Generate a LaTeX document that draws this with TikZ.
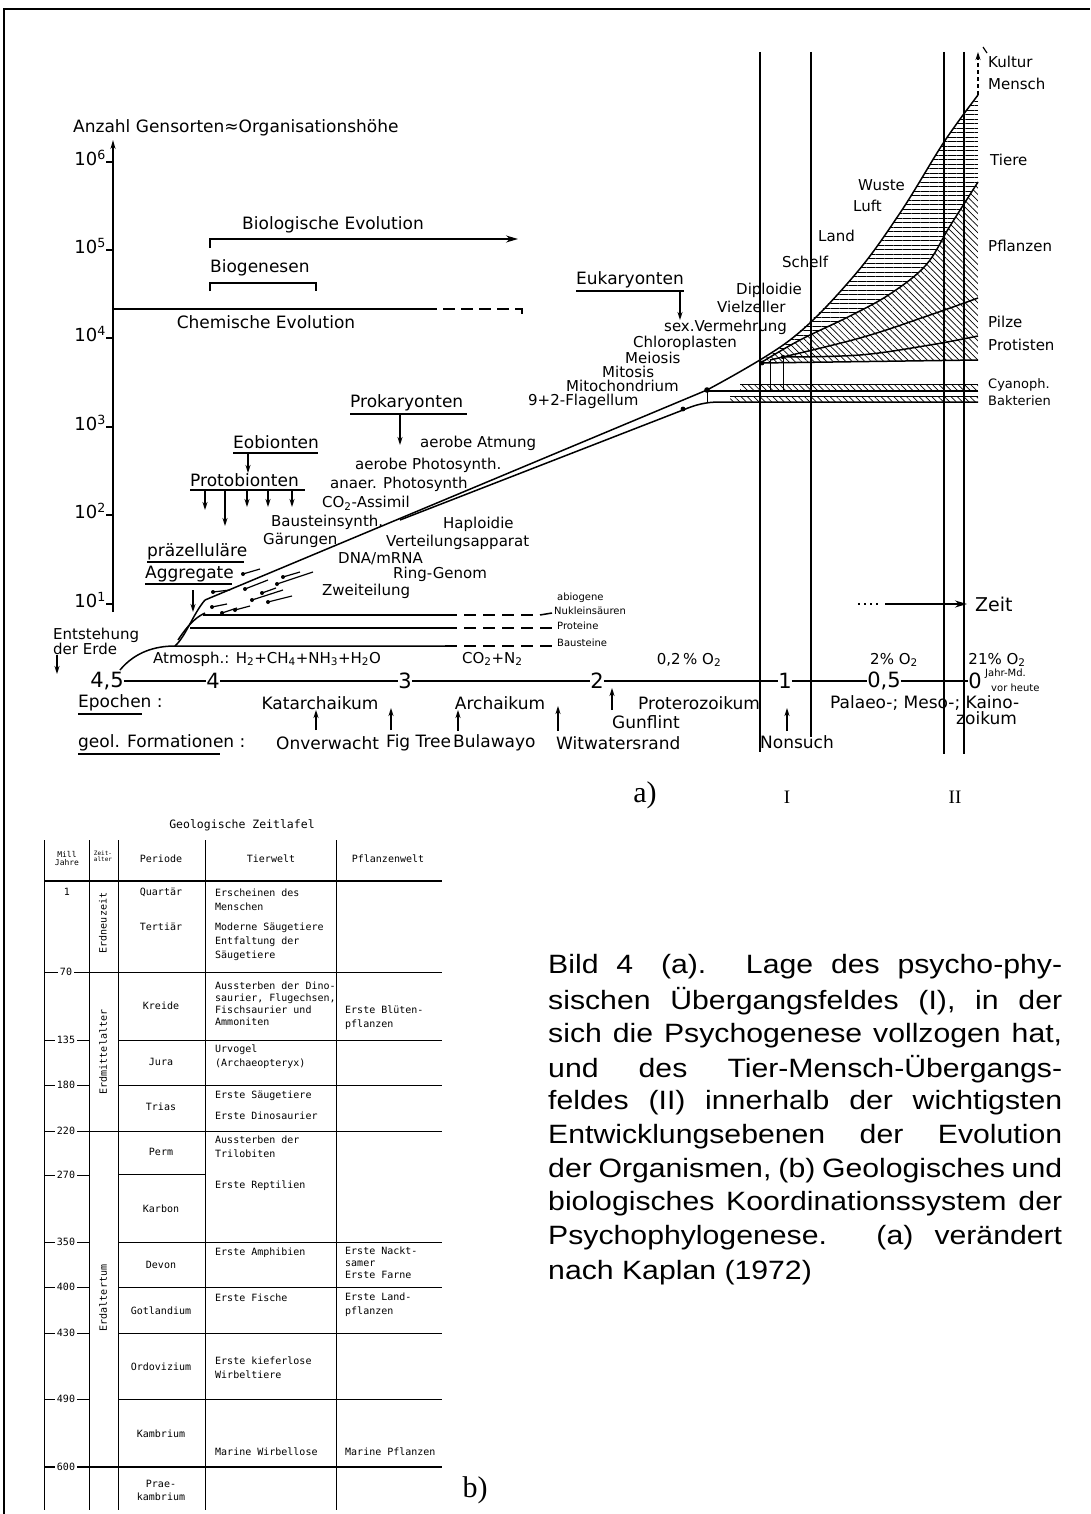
\documentclass[tikz,border=0pt]{standalone}
\usepackage{fontspec}
\setmainfont{DejaVu Sans}
\newfontfamily\capfont{Liberation Sans}[FakeStretch=1.14]
\newfontfamily\serfont{Liberation Serif}
\newfontfamily\tabfont{DejaVu Sans Mono}
\usetikzlibrary{patterns,patterns.meta,arrows.meta}
\newcommand{\myfs}[1]{\fontsize{#1}{#1}\selectfont}
\begin{document}
\begin{tikzpicture}[x=1pt,y=-1pt,
  hd/.style={font=\myfs{17}, inner sep=0pt},
  md/.style={font=\myfs{15}, inner sep=0pt},
  sm/.style={font=\myfs{10}, inner sep=0pt},
  num/.style={font=\myfs{21}, inner sep=0pt},
  tb/.style={font=\tabfont\myfs{10}, inner sep=0pt},
  tbl/.style={tb, anchor=west, align=left},
  tbs/.style={font=\tabfont\myfs{8}, inner sep=0pt, align=center},
  captxt/.style={font=\capfont\myfs{26.5}, inner sep=0pt, anchor=west},
  ser/.style={font=\serfont\myfs{30}, inner sep=0pt},
  serr/.style={font=\serfont\myfs{19}, inner sep=0pt},
  ln/.style={line width=1.5pt},
  tln/.style={line width=1pt},
  arr/.style={line width=1.5pt, -{Stealth[length=12pt,width=7pt]}},
  sarr/.style={line width=1.4pt, -{Stealth[length=8pt,width=5pt]}},
  ul/.style={line width=1.2pt},
  hatchH/.style={pattern={Lines[angle=0,distance=4.5pt,line width=0.7pt]}},
  hatchD/.style={pattern={Lines[angle=-45,distance=4.5pt,line width=0.7pt]}},
  dotarr/.style={line width=1.2pt},
]
\useasboundingbox (0,0) rectangle (1090,1514);
\fill[white] (0,0) rectangle (1090,1514);
% frame
\draw[line width=2.8pt] (4,1514) -- (4,9) -- (1090,9);

% ---------------- y axis
\draw[ln, -{Stealth[length=9pt,width=5pt]}] (113,612) -- (113,140);
\foreach \yy/\e [count=\i] in {162/6,250/5,338/4,427/3,515/2,604/1}{
  \draw[ln] (106,\yy) -- (113,\yy);
  \node[font=\myfs{18}, inner sep=0pt, anchor=east] (tk\i) at (106,\yy-4) {10\textsuperscript{\e}};
}
\node[font=\myfs{17}, inner sep=0pt, anchor=west] (ylab) at (73,128) {Anzahl Gensorten≈Organisationshöhe};

% chemische / biologische evolution
\draw[ln] (113,309) -- (425,309);
\draw[ln, dash pattern=on 12pt off 6pt] (425,309) -- (522,309) -- (522,318);
\node[hd] (chem) at (266,322) {Chemische Evolution};
\draw[arr] (210,248) -- (210,239) -- (518,239);
\node[hd] (bio) at (333,225) {Biologische Evolution};
\draw[ln] (210,291) -- (210,283) -- (316,283) -- (316,291);
\node[hd, anchor=west] (biog) at (210,268) {Biogenesen};

% headings with underline and arrows
\node[hd, anchor=west] (euk) at (576,280) {Eukaryonten};
\draw[ul] (576,291) -- (684,291);
\draw[sarr] (680,292) -- (680,320);
\node[hd, anchor=west] (prok) at (350,403) {Prokaryonten};
\draw[ul] (350,414) -- (467,414);
\draw[sarr] (400,414) -- (400,445);
\node[hd, anchor=west] (eob) at (233,442) {Eobionten};
\draw[ul] (233,453) -- (318,453);
\draw[sarr] (248,453) -- (248,473);
\node[hd, anchor=west] (prot) at (190,480) {Protobionten};
\draw[ul] (190,490) -- (305,490);
\foreach \xx/\yb in {205/510,225/526,247/507,268/507,292/507}{
  \draw[sarr] (\xx,490) -- (\xx,\yb);
}
\node[hd, anchor=west] (praez) at (147,552) {präzelluläre};
\draw[ul] (147,562) -- (244,562);
\node[hd, anchor=west] (aggr) at (145,574) {Aggregate};
\draw[ul] (145,584) -- (232,584);
\draw[sarr] (193,590) -- (193,612);
\node[md, anchor=west, align=left] (entst) at (53,641) {Entstehung\\der Erde};
\draw[sarr] (57,655) -- (57,674);

% eukaryote labels
\node[md, anchor=west] (sexv) at (664,327) {sex.Vermehrung};
\node[md, anchor=west] (chlo) at (633,343) {Chloroplasten};
\node[md, anchor=west] (meio) at (625,358) {Meiosis};
\node[md, anchor=west] (mito) at (602,372) {Mitosis};
\node[md, anchor=west] (mitoc) at (566,386) {Mitochondrium};
\node[md, anchor=west] (flag) at (528,401) {9+2-Flagellum};
\node[md, anchor=west] (dipl) at (736,290) {Diploidie};
\node[md, anchor=west] (vielz) at (717,307) {Vielzeller};
% prokaryote labels
\node[md, anchor=west] (aatm) at (420,443) {aerobe Atmung};
\node[md, anchor=west] (aph) at (355,465) {aerobe Photosynth.};
\node[md, anchor=west] (anph) at (330,484) {anaer. Photosynth};
\node[md, anchor=west] (co2a) at (322,503) {CO\textsubscript{2}-Assimil};
\node[md, anchor=west] (baus) at (271,522) {Bausteinsynth.};
\node[md, anchor=west] (gaer) at (263,540) {Gärungen};
\node[md, anchor=west] (hapl) at (443,524) {Haploidie};
\node[md, anchor=west] (vert) at (386,542) {Verteilungsapparat};
\node[md, anchor=west] (dna) at (338,559) {DNA/mRNA};
\node[md, anchor=west] (ring) at (393,574) {Ring-Genom};
\node[md, anchor=west] (zwei) at (322,591) {Zweiteilung};

% habitat labels
\node[md, anchor=west] (wue) at (858,185) {Wuste};
\node[md, anchor=west] (luft) at (853,206) {Luft};
\node[md, anchor=west] (land) at (818,236) {Land};
\node[md, anchor=west] (schelf) at (782,262) {Schelf};

% ---------------- fan (right)
\fill[hatchH] plot[smooth,tension=0.6] coordinates {(762,360) (790,340) (853,277) (900,213) (944,142) (978,95)} -- (978,182)
   -- plot[smooth,tension=0.6] coordinates {(978,182) (950,226) (926,265) (890,294) (850,316) (800,340) (762,362)} -- cycle;
\fill[hatchD] plot[smooth,tension=0.6] coordinates {(762,362) (800,340) (850,316) (890,294) (926,265) (950,226) (978,182)} -- (978,298)
   -- plot[smooth,tension=0.6] coordinates {(978,298) (930,315) (860,338) (770,360)} -- cycle;
\fill[hatchD] plot[smooth,tension=0.6] coordinates {(770,360) (860,338) (930,315) (978,298)} -- (978,336)
   -- plot[smooth,tension=0.6] coordinates {(978,336) (930,345) (860,355) (783,357)} -- cycle;
\fill[hatchD] plot[smooth,tension=0.6] coordinates {(783,357) (860,355) (930,345) (978,336)} -- (978,360) -- (760,363) -- cycle;
\fill[hatchD] (740,384) rectangle (978,391);
\fill[hatchD] (730,396) rectangle (978,402);

\draw[ln] plot[smooth,tension=0.6] coordinates {(707,390) (790,340) (853,277) (900,213) (944,142) (978,95)};
\draw[ln] plot[smooth,tension=0.6] coordinates {(762,362) (800,340) (850,316) (890,294) (926,265) (950,226) (978,182)};
\draw[ln] plot[smooth,tension=0.6] coordinates {(770,360) (860,338) (930,315) (978,298)};
\draw[ln] plot[smooth,tension=0.6] coordinates {(783,357) (860,355) (930,345) (978,336)};
\draw[ln] (760,363) -- (978,360);
\draw[tln] (740,384) -- (978,384);
\draw[ln] (707,391) -- (978,391);
\draw[tln] (730,396) -- (978,396);
\draw[tln] (770,360) -- (770,392);
\draw[tln] (783,357) -- (783,392);
\fill (762,363) circle (2.4pt);
\fill (783,357) circle (2.2pt);
\draw[line width=1.3pt, dash pattern=on 4pt off 3pt, -{Stealth[length=8pt,width=5pt]}] (978,95) -- (978,52);
\draw[line width=1.2pt] (983,47) -- (987,53);

% stem
\draw[ln] (205,600) -- (707,390);
\draw[ln] (400,520) -- (683,410) .. controls (695,405) and (705,402) .. (720,402) -- (978,402);
\draw[tln] (707,390) -- (707,402);
\fill (707,390) circle (2.8pt);
\fill (683,409) circle (2.4pt);

% fan labels
\node[md, anchor=west] (kult) at (988,62) {Kultur};
\node[md, anchor=west] (mensch) at (988,84) {Mensch};
\node[md, anchor=west] (tiere) at (990,160) {Tiere};
\node[md, anchor=west] (pfl) at (988,246) {Pflanzen};
\node[md, anchor=west] (pilze) at (988,322) {Pilze};
\node[md, anchor=west] (protis) at (988,345) {Protisten};
\node[font=\myfs{13}, inner sep=0pt, anchor=west] (cyan) at (988,385) {Cyanoph.};
\node[font=\myfs{13}, inner sep=0pt, anchor=west] (bakt) at (988,401) {Bakterien};

% ---------------- bottom-left structures
\draw[ln] (120,670) .. controls (135,652) and (155,646) .. (175,646) -- (445,646);
\draw[ln, dash pattern=on 12pt off 7pt] (445,646) -- (540,646);
\draw[ln] (540,646) -- (552,646);
\draw[ln] (175,646) .. controls (186,636) and (193,614) .. (205,600);
\draw[ln] (178,640) .. controls (186,628) and (194,618) .. (205,613);
\draw[ln] (190,628) -- (445,628);
\draw[ln, dash pattern=on 12pt off 7pt] (445,628) -- (540,628);
\draw[ln] (540,628) -- (552,628);
\draw[ln] (203,615) -- (445,615);
\draw[ln, dash pattern=on 12pt off 7pt] (445,615) -- (540,615);
\draw[ln] (540,615) -- (552,613);
% small aggregate arrows
\foreach \ax/\ay/\bx/\by in {243/574/260/569, 213/592/230/590, 245/589/268/580, 277/584/313/572, 252/600/283/590, 268/602/292/596, 212/607/227/604, 222/613/237/608, 235/610/250/606, 283/577/300/572, 262/593/276/588}{
  \draw[dotarr] (\ax,\ay) -- (\bx,\by);
  \fill (\ax,\ay) circle (2pt);
}
\node[sm, anchor=west] (abio) at (557,598) {abiogene};
\node[sm, anchor=west] (nukl) at (554,611) {Nukleinsäuren};
\node[sm, anchor=west] (prte) at (557,626) {Proteine};
\node[sm, anchor=west] (bste) at (557,643) {Bausteine};

% atmosphere
\node[md, anchor=west] (atm) at (153,659) {Atmosph.: H\textsubscript{2}+CH\textsubscript{4}+NH\textsubscript{3}+H\textsubscript{2}O};
\node[md, anchor=west] (co2) at (462,659) {CO\textsubscript{2}+N\textsubscript{2}};
\node[md] (o2a) at (689,660) {0,2\,\% O\textsubscript{2}};
\node[md] (o2b) at (894,660) {2\% O\textsubscript{2}};
\node[md] (o2c) at (997,660) {21\% O\textsubscript{2}};

% time axis
\node[num] (n45) at (107,681) {4,5};
\node[num] (n4) at (213,681) {4};
\node[num] (n3) at (405,681) {3};
\node[num] (n2) at (597,681) {2};
\node[num] (n1) at (785,681) {1};
\node[num] (n05) at (884,681) {0,5};
\node[num] (n0) at (975,681) {0};
\draw[ln] (n45) -- (n4);
\draw[ln] (n4) -- (n3);
\draw[ln] (n3) -- (n2);
\draw[ln] (n2) -- (n1);
\draw[ln] (n1) -- (n05);
\draw[ln] (n05) -- (n0);
\node[sm, anchor=west] (jahr) at (985,674) {Jahr-Md.};
\node[sm, anchor=west] (vorh) at (991,688) {vor heute};

\draw[line width=1.6pt, dash pattern=on 2pt off 4pt] (858,604) -- (880,604);
\draw[arr] (885,604) -- (967,604);
\node[font=\myfs{19}, inner sep=0pt, anchor=west] (zeit) at (975,604) {Zeit};

% epochs
\node[hd, anchor=west] (epo) at (78,703) {Epochen :};
\draw[ul] (78,714) -- (142,714);
\node[hd] (kat) at (320,703) {Katarchaikum};
\node[hd] (arch) at (500,703) {Archaikum};
\node[hd, anchor=west] (prot2) at (638,703) {Proterozoikum};
\node[hd, anchor=west] (pmk) at (830,703) {Palaeo-; Meso-; Kaino-};
\node[hd, anchor=west] (zoik) at (956,718) {zoikum};

\node[hd, anchor=west] (geol) at (78,743) {geol. Formationen :};
\draw[ul] (78,754) -- (220,754);
\node[hd, anchor=west] (onv) at (276,743) {Onverwacht};
\node[hd, anchor=west] (fig) at (386,743) {Fig Tree};
\node[hd, anchor=west] (bul) at (453,743) {Bulawayo};
\node[hd, anchor=west] (wit) at (556,743) {Witwatersrand};
\node[hd, anchor=west] (gun) at (612,722) {Gunflint};
\node[hd, anchor=west] (non) at (760,742) {Nonsuch};
\draw[sarr] (316,730) -- (316,710);
\draw[sarr] (391,730) -- (391,708);
\draw[sarr] (458,731) -- (458,710);
\draw[sarr] (558,731) -- (558,706);
\draw[sarr] (612,710) -- (612,688);
\draw[sarr] (787,731) -- (787,708);

% transition field lines
\draw[line width=1.3pt] (760,52) -- (760,752);
\draw[line width=1.3pt] (811,52) -- (811,737);
\draw[line width=1.3pt] (944,52) -- (944,754);
\draw[line width=1.3pt] (964,52) -- (964,754);

\node[ser] (la) at (645,795) {a)};
\node[serr] (lI) at (787,797) {I};
\node[serr] (lII) at (955,797) {II};

% ---------------- table
\node[font=\tabfont\myfs{11.5}, inner sep=0pt] (ttl) at (242,825) {Geologische Zeitlafel};
\foreach \xx in {44,89,118,205,336}{ \draw[tln] (\xx,840) -- (\xx,1510); }
\draw[line width=1.4pt] (44,881) -- (442,881);
\node[tbs] (hmj) at (67,858) {Mill\\Jahre};
\node[font=\tabfont\myfs{6}, inner sep=0pt, align=center] (hza) at (103,856) {Zeit-\\alter};
\node[tb] (hper) at (161,859) {Periode};
\node[tb] (htier) at (271,859) {Tierwelt};
\node[tb] (hpfl) at (388,859) {Pflanzenwelt};
\node[tb] (m1) at (67,892) {1};
% boundaries
\foreach \yy/\lab in {972/70, 1040/135, 1085/180, 1131/220, 1175/270, 1242/350, 1287/400, 1333/430, 1399/490}{
  \draw[tln] (44,\yy) -- (89,\yy);
  \node[tb, fill=white, inner xsep=1.5pt] at (66,\yy) {\lab};
}
\foreach \yy/\xs in {972/89, 1040/118, 1085/118, 1131/89, 1242/118, 1287/118, 1333/118, 1399/118}{
  \draw[tln] (\xs,\yy) -- (442,\yy);
}
\draw[tln] (118,1174) -- (205,1174);
\draw[line width=1.4pt] (44,1467) -- (442,1467);
\node[tb, fill=white, inner xsep=1.5pt] (m600) at (66,1467) {600};
% eras
\node[tb, rotate=90] (era1) at (103,923) {Erdneuzeit};
\node[tb, rotate=90] (era2) at (103,1052) {Erdmittelalter};
\node[tb, rotate=90] (era3) at (103,1298) {Erdaltertum};
% periods
\node[tb] (p1) at (161,892) {Quartär};
\node[tb] (p2) at (161,927) {Tertiär};
\node[tb] (p3) at (161,1006) {Kreide};
\node[tb] (p4) at (161,1062) {Jura};
\node[tb] (p5) at (161,1107) {Trias};
\node[tb] (p6) at (161,1152) {Perm};
\node[tb] (p7) at (161,1209) {Karbon};
\node[tb] (p8) at (161,1265) {Devon};
\node[tb] (p9) at (161,1311) {Gotlandium};
\node[tb] (p10) at (161,1367) {Ordovizium};
\node[tb] (p11) at (161,1434) {Kambrium};
\node[tb, align=center] (p12) at (161,1490) {Prae-\\[3pt]kambrium};
% Tierwelt
\node[tbl] (t1) at (215,900) {Erscheinen des\\[4pt]Menschen};
\node[tbl] (t2) at (215,942) {Moderne Säugetiere\\[4pt]Entfaltung der\\[4pt]Säugetiere};
\node[tbl] (t3) at (215,1004) {Aussterben der Dino-\\[2pt]saurier, Flugechsen,\\[2pt]Fischsaurier und\\[2pt]Ammoniten};
\node[tbl] (t4) at (215,1057) {Urvogel\\[4pt](Archaeopteryx)};
\node[tbl] (t5) at (215,1096) {Erste Säugetiere};
\node[tbl] (t6) at (215,1116) {Erste Dinosaurier};
\node[tbl] (t7) at (215,1147) {Aussterben der\\[4pt]Trilobiten};
\node[tbl] (t8) at (215,1186) {Erste Reptilien};
\node[tbl] (t9) at (215,1253) {Erste Amphibien};
\node[tbl] (t10) at (215,1298) {Erste Fische};
\node[tbl] (t11) at (215,1368) {Erste kieferlose\\[4pt]Wirbeltiere};
\node[tbl] (t12) at (215,1452) {Marine Wirbellose};
% Pflanzenwelt
\node[tbl] (f1) at (345,1018) {Erste Blüten-\\[4pt]pflanzen};
\node[tbl] (f2) at (345,1263) {Erste Nackt-\\[2pt]samer\\[2pt]Erste Farne};
\node[tbl] (f3) at (345,1305) {Erste Land-\\[4pt]pflanzen};
\node[tbl] (f4) at (345,1452) {Marine Pflanzen};

\node[ser] (lb) at (475,1490) {b)};

% ---------------- caption
\node[captxt] (c1) at (548,967) {\makebox[514pt][s]{Bild 4\hspace{10pt} (a). Lage des psycho-phy-}};
\node[captxt] (c2) at (548,1001) {\makebox[514pt][s]{sischen Übergangsfeldes (I), in der}};
\node[captxt] (c3) at (548,1036) {\makebox[514pt][s]{sich die Psychogenese vollzogen hat,}};
\node[captxt] (c4) at (548,1069) {\makebox[514pt][s]{und des Tier-Mensch-Übergangs-}};
\node[captxt] (c5) at (548,1103) {\makebox[514pt][s]{feldes (II) innerhalb der wichtigsten}};
\node[captxt] (c6) at (548,1137) {\makebox[514pt][s]{Entwicklungsebenen der Evolution}};
\node[captxt] (c7) at (548,1171) {\makebox[514pt][s]{der Organismen, (b) Geologisches und}};
\node[captxt] (c8) at (548,1204) {\makebox[514pt][s]{biologisches Koordinationssystem der}};
\node[captxt] (c9) at (548,1238) {\makebox[514pt][s]{Psychophylogenese. (a) verändert}};
\node[captxt] (c10) at (548,1273) {nach Kaplan (1972)};
\end{tikzpicture}
\end{document}
